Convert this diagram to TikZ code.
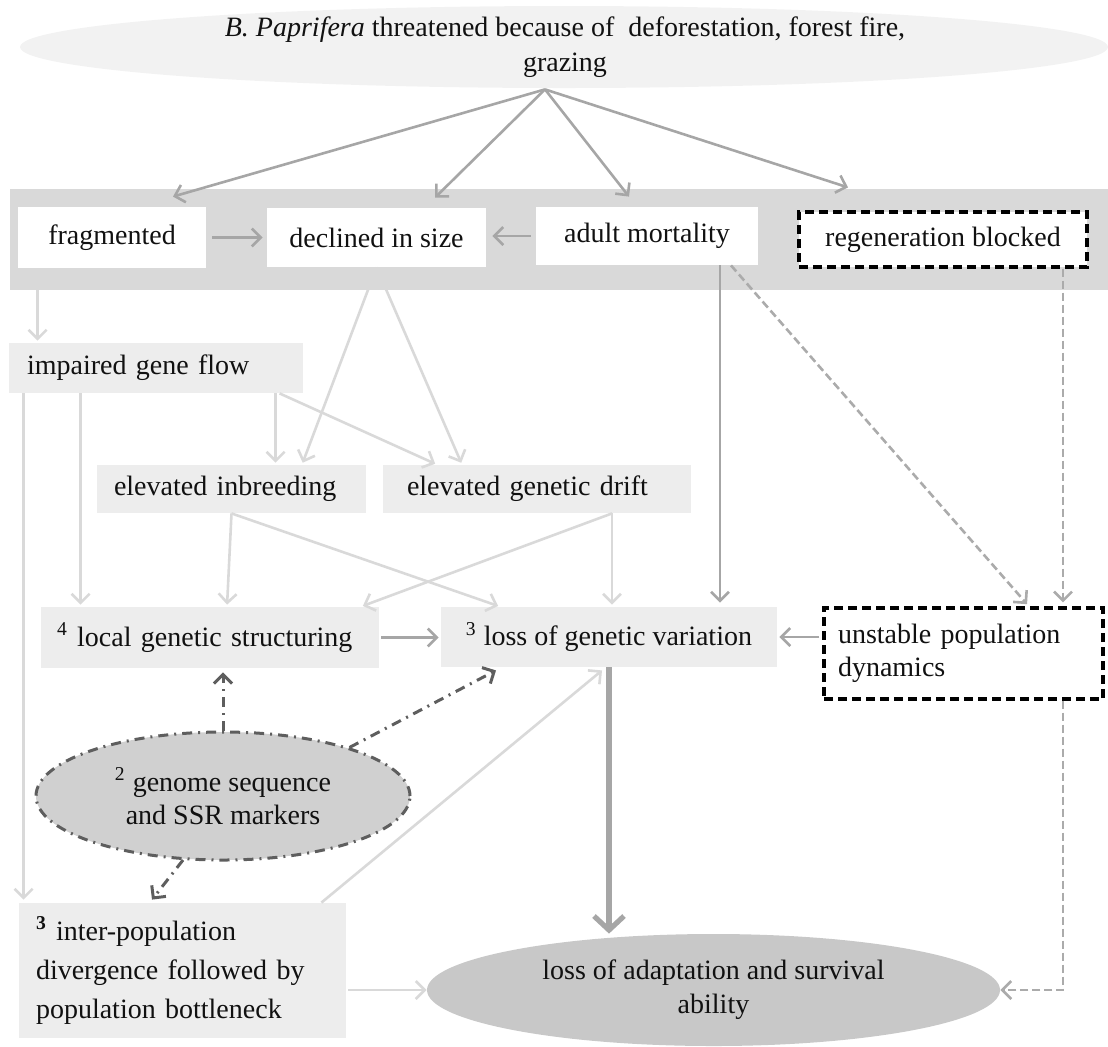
\documentclass[tikz,border=0pt]{standalone}
\usepackage{fontspec}
\setmainfont{Liberation Serif}
\usetikzlibrary{arrows.meta,shapes.geometric,calc}
\definecolor{bandgray}{HTML}{D9D9D9}
\definecolor{boxgray}{HTML}{EDEDED}
\definecolor{topgray}{HTML}{F2F2F2}
\definecolor{genomegray}{HTML}{D0D0D0}
\definecolor{adaptgray}{HTML}{C8C8C8}
\definecolor{darkarrow}{HTML}{A6A6A6}
\definecolor{lightarrow}{HTML}{D9D9D9}
\definecolor{dashgray}{HTML}{ABABAB}
\definecolor{dotgray}{HTML}{5E5E5E}
\definecolor{txt}{HTML}{111111}
\begin{document}
\begin{tikzpicture}[x=0.5pt,y=-0.5pt,
  every node/.style={font=\fontsize{14}{17}\selectfont, text=txt, inner sep=0pt},
  whitebox/.style={rectangle, fill=white, align=center},
  lightbox/.style={rectangle, fill=boxgray},
  blackdash/.style={rectangle, draw=black, line width=1.6pt, dash pattern=on 4.5pt off 2.5pt, fill=white},
  barb/.style={-{Straight Barb[length=4.5pt,width=9pt]}},
  darkline/.style={barb, draw=darkarrow, line width=1.3pt},
  lightline/.style={barb, draw=lightarrow, line width=1.3pt},
  graydash/.style={barb, draw=dashgray, line width=1.3pt, dash pattern=on 4pt off 2pt},
  dotdash/.style={barb, draw=dotgray, line width=1.5pt, dash pattern=on 5pt off 3pt on 1pt off 3pt},
]
\useasboundingbox (0,0) rectangle (1108,1046);

% top ellipse
\node[ellipse, fill=topgray, minimum width=544pt, minimum height=41pt] (topell) at (564,47) {};
\node[align=center, font=\fontsize{14}{17.5}\selectfont] (toptext) at (565,47)
  {\textit{B. Paprifera} threatened because of\ \ deforestation, forest fire,\\grazing};

% band
\node[rectangle, fill=bandgray, minimum width=549pt, minimum height=50.5pt] (band) at (559,239.5) {};
\node[whitebox, minimum width=94pt, minimum height=30.5pt] (frag) at (112,237.5) {fragmented};
\node[whitebox, minimum width=109.5pt, minimum height=29.5pt] (decl) at (376.5,237.5) {declined in size};
\node[whitebox, minimum width=111pt, minimum height=29pt] (adult) at (647,236) {adult mortality};
\node[blackdash, minimum width=144pt, minimum height=27.5pt] (regen) at (943,239.5) {regeneration blocked};

% middle boxes
\node[lightbox, text width=129pt, inner xsep=9pt, minimum height=25pt, align=left] (imp) at (156,368) {impaired gene flow};
\node[lightbox, text width=117.5pt, inner xsep=8.5pt, minimum height=24pt, align=left] (inb) at (231.5,489) {elevated inbreeding};
\node[lightbox, text width=130pt, inner xsep=12pt, minimum height=24pt, align=left] (drift) at (537,489) {elevated genetic drift};
\node[lightbox, text width=153pt, inner xsep=8pt, minimum height=30.5pt, align=left] (local) at (210,637.5) {\textsuperscript{4} local genetic structuring};
\node[lightbox, minimum width=168pt, minimum height=30pt, align=center] (lossgv) at (609,637) {\textsuperscript{3} loss of genetic variation};
\node[blackdash, text width=125.5pt, inner xsep=7pt, minimum height=45.5pt, align=left, font=\fontsize{14}{16.5}\selectfont] (unst) at (963.5,653.5) {unstable population\\dynamics};
\node[ellipse, fill=genomegray, draw=dotgray, line width=1.5pt, dash pattern=on 5pt off 3pt on 1pt off 3pt, minimum width=187pt, minimum height=64pt, align=center, font=\fontsize{14}{16.5}\selectfont] (genome) at (223,796) {\textsuperscript{2} genome sequence\\and SSR markers};
\node[lightbox, text width=146.5pt, inner xsep=8.5pt, minimum height=67.5pt, align=left, font=\fontsize{14}{19.5}\selectfont] (inter) at (182.5,970.5) {\textbf{\textsuperscript{3}} inter-population\\divergence followed by\\population bottleneck};
\node[ellipse, fill=adaptgray, minimum width=286.5pt, minimum height=56pt, align=center] (adapt) at (713.5,990) {loss of adaptation and survival\\ability};

% top arrows
\coordinate (tp) at ([xshift=-9.5pt,yshift=-0.5pt]topell.south);
\draw[darkline] (tp) -- ([xshift=30.5pt,yshift=5pt]frag.north);
\draw[darkline] (tp) -- ([xshift=29.25pt,yshift=5pt]decl.north);
\draw[darkline] (tp) -- ([xshift=-9pt,yshift=5pt]adult.north);
\draw[darkline] (tp) -- ([xshift=-47.5pt,yshift=11.5pt]regen.north);

% band arrows
\draw[darkline, shorten <=3pt, shorten >=2pt] (frag.east) -- (decl.west);
\draw[darkline, shorten <=2.5pt, shorten >=3pt] (adult.west) -- (adult.west -| decl.east);

% light connectors
\coordinate (c1) at ([xshift=10pt]frag.south west);
\draw[lightline, shorten >=1pt] (c1) -- (c1 |- imp.north);
\coordinate (c2) at ([xshift=7.5pt]imp.south west);
\draw[lightline, shorten >=1.5pt] (c2) -- (c2 |- inter.north);
\coordinate (c3) at ([xshift=36pt]imp.south west);
\draw[lightline, shorten >=1pt] (c3) -- (c3 |- local.north);
\coordinate (c4) at ([xshift=133.5pt]imp.south west);
\draw[lightline, shorten >=1pt] (c4) -- (c4 |- inb.north);
\coordinate (c5) at ([xshift=135.5pt]imp.south west);
\draw[lightline, shorten >=1pt] (c5) -- ([xshift=-50pt]drift.north);
\draw[lightline, shorten >=1pt] (decl.south) -- ([xshift=35.25pt]inb.north);
\draw[lightline, shorten >=1pt] (decl.south) -- ([xshift=-37.5pt]drift.north);

\draw[lightline, shorten >=1pt] (inb.south) -- ([xshift=8.5pt]local.north);
\draw[lightline, shorten >=1pt] (inb.south) -- ([xshift=-54.5pt]lossgv.north);
\coordinate (c8) at ([xshift=37.5pt]drift.south);
\draw[lightline, shorten >=1pt] (c8) -- (c8 |- lossgv.north);
\draw[lightline, shorten >=1pt] (c8) -- ([xshift=75.5pt]local.north);

% adult / regen connectors
\coordinate (c6) at ([xshift=36.5pt]adult.south);
\draw[darkline, shorten >=2pt] (c6) -- (c6 |- lossgv.north);
\draw[graydash, shorten >=1.5pt] ([xshift=42pt]adult.south) -- ([xshift=32.75pt]unst.north);
\coordinate (c7) at ([xshift=60pt]regen.south);
\draw[graydash, shorten >=2pt] (c7) -- (c7 |- unst.north);

% into loss of genetic variation
\draw[darkline, shorten <=1pt, shorten >=1pt] (local.east) -- (local.east -| lossgv.west);
\draw[darkline, shorten <=1.5pt, shorten >=1pt] (lossgv.east -| unst.west) -- (lossgv.east);

% genome dash-dot arrows
\draw[dotdash] (genome.north) -- ([xshift=6.5pt,yshift=-2pt]local.south);
\draw[dotdash] (genome.21) -- ([xshift=-56.5pt,yshift=-1.5pt]lossgv.south);
\draw[dotdash] (genome.238) -- ([xshift=-15.25pt,yshift=1.5pt]inter.north);

% inter-population connectors
\draw[lightline] ([xshift=-12.5pt]inter.north east) -- ([xshift=-3.5pt,yshift=-1.5pt]lossgv.south);
\draw[lightline, shorten <=1pt] (adapt.west -| inter.east) -- (adapt.west);

% thick arrow
\draw[draw=darkarrow, line width=2.6pt, -{Straight Barb[length=7pt,width=15pt]}] (lossgv.south) -- (lossgv.south |- adapt.north);

% unstable to adaptation
\draw[graydash] ([xshift=49.75pt]unst.south) |- (adapt.east);
\end{tikzpicture}
\end{document}
